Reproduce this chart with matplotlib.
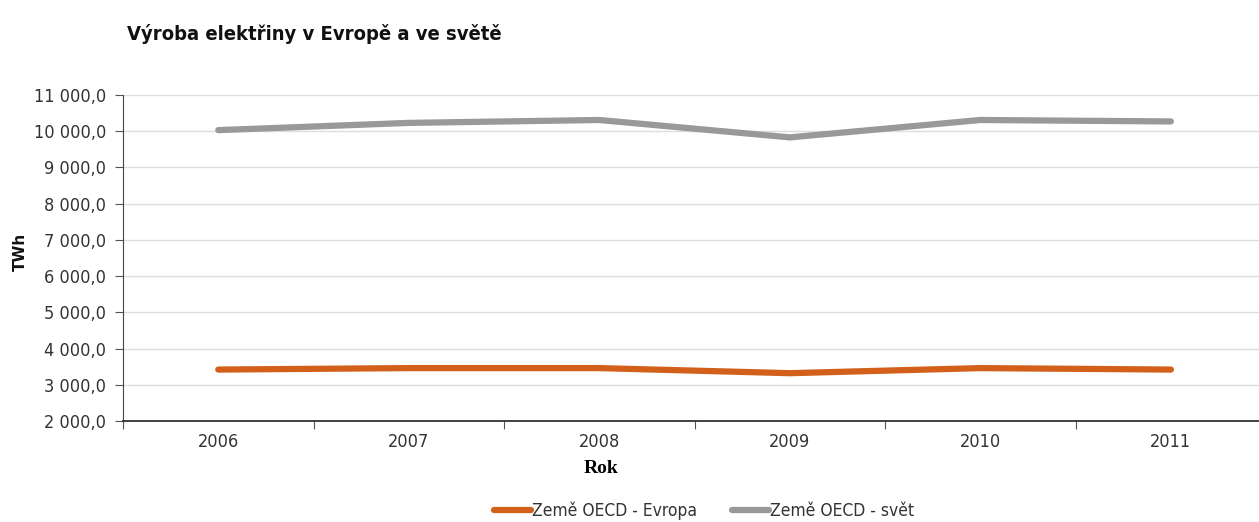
import matplotlib.pyplot as plt
import numpy as np

# roky a výroba elektřiny (TWh)
roky = ['2006', '2007', '2008', '2009', '2010', '2011']
evropa = [3420, 3460, 3460, 3320, 3460, 3420]
svet = [10030, 10230, 10310, 9830, 10310, 10270]

nazev = 'Výroba elektřiny v Evropě a ve světě'
serie_nazvy = ['Země OECD - Evropa', 'Země OECD - svět']
yticks = np.arange(2000, 11001, 1000)

plt.rcParams['font.family'] = ['DejaVu Sans']
plt.rcParams['font.stretch'] = 'condensed'

fig = plt.figure(figsize=(12.59, 5.22), dpi=100)
ax = fig.add_axes([0.0977, 0.1935, 0.908, 0.6245])

x = np.arange(len(roky))
ax.plot(x, evropa, color='#d2601a', lw=4.5, solid_capstyle='round', label=serie_nazvy[0], zorder=3)
ax.plot(x, svet, color='#999999', lw=4.5, solid_capstyle='round', label=serie_nazvy[1], zorder=3)

ax.set_xlim(-0.5, len(roky) - 0.5)
ax.set_ylim(2000, 11000)
ax.set_yticks(yticks)
ax.set_yticklabels([f'{v:,.1f}'.replace(',', ' ').replace('.', ',') for v in yticks],
                   fontsize=13, color='#333333')
ax.yaxis.grid(True, color='#dddddd', lw=1)
ax.set_axisbelow(True)

# dělicí značky mezi kategoriemi, popisky uprostřed
ax.set_xticks(np.arange(-0.5, len(roky) - 0.4, 1))
ax.set_xticklabels([])
ax.set_xticks(x, minor=True)
ax.set_xticklabels(roky, minor=True, fontsize=13, color='#333333')
ax.tick_params(axis='x', which='major', length=6, color='#555555')
ax.tick_params(axis='x', which='minor', length=0, pad=9)
ax.tick_params(axis='y', length=6, color='#555555', pad=6)

for s in ['top', 'right']:
    ax.spines[s].set_visible(False)
ax.spines['left'].set_color('#444444')
ax.spines['bottom'].set_color('#333333')
ax.spines['bottom'].set_linewidth(1.3)

ax.set_ylabel('TWh', fontsize=11, fontweight='bold', stretch='normal', color='#111111')
ax.yaxis.set_label_coords(-0.083, 0.52)
ax.set_xlabel('Rok', fontsize=14, fontweight='bold',
              family=['Liberation Serif', 'DejaVu Serif'], stretch='condensed')
ax.xaxis.set_label_coords(0.418, -0.12)

fig.text(0.101, 0.935, nazev, fontsize=14.5, fontweight='bold', color='#111111',
         ha='left', va='center')

leg = ax.legend(loc='upper center', bbox_to_anchor=(0.508, -0.2), ncol=2, frameon=False,
                fontsize=12.5, handlelength=2.15, handletextpad=0.05, columnspacing=2.0)
for t in leg.get_texts():
    t.set_color('#333333')

fig.savefig('out.png', dpi=100)
